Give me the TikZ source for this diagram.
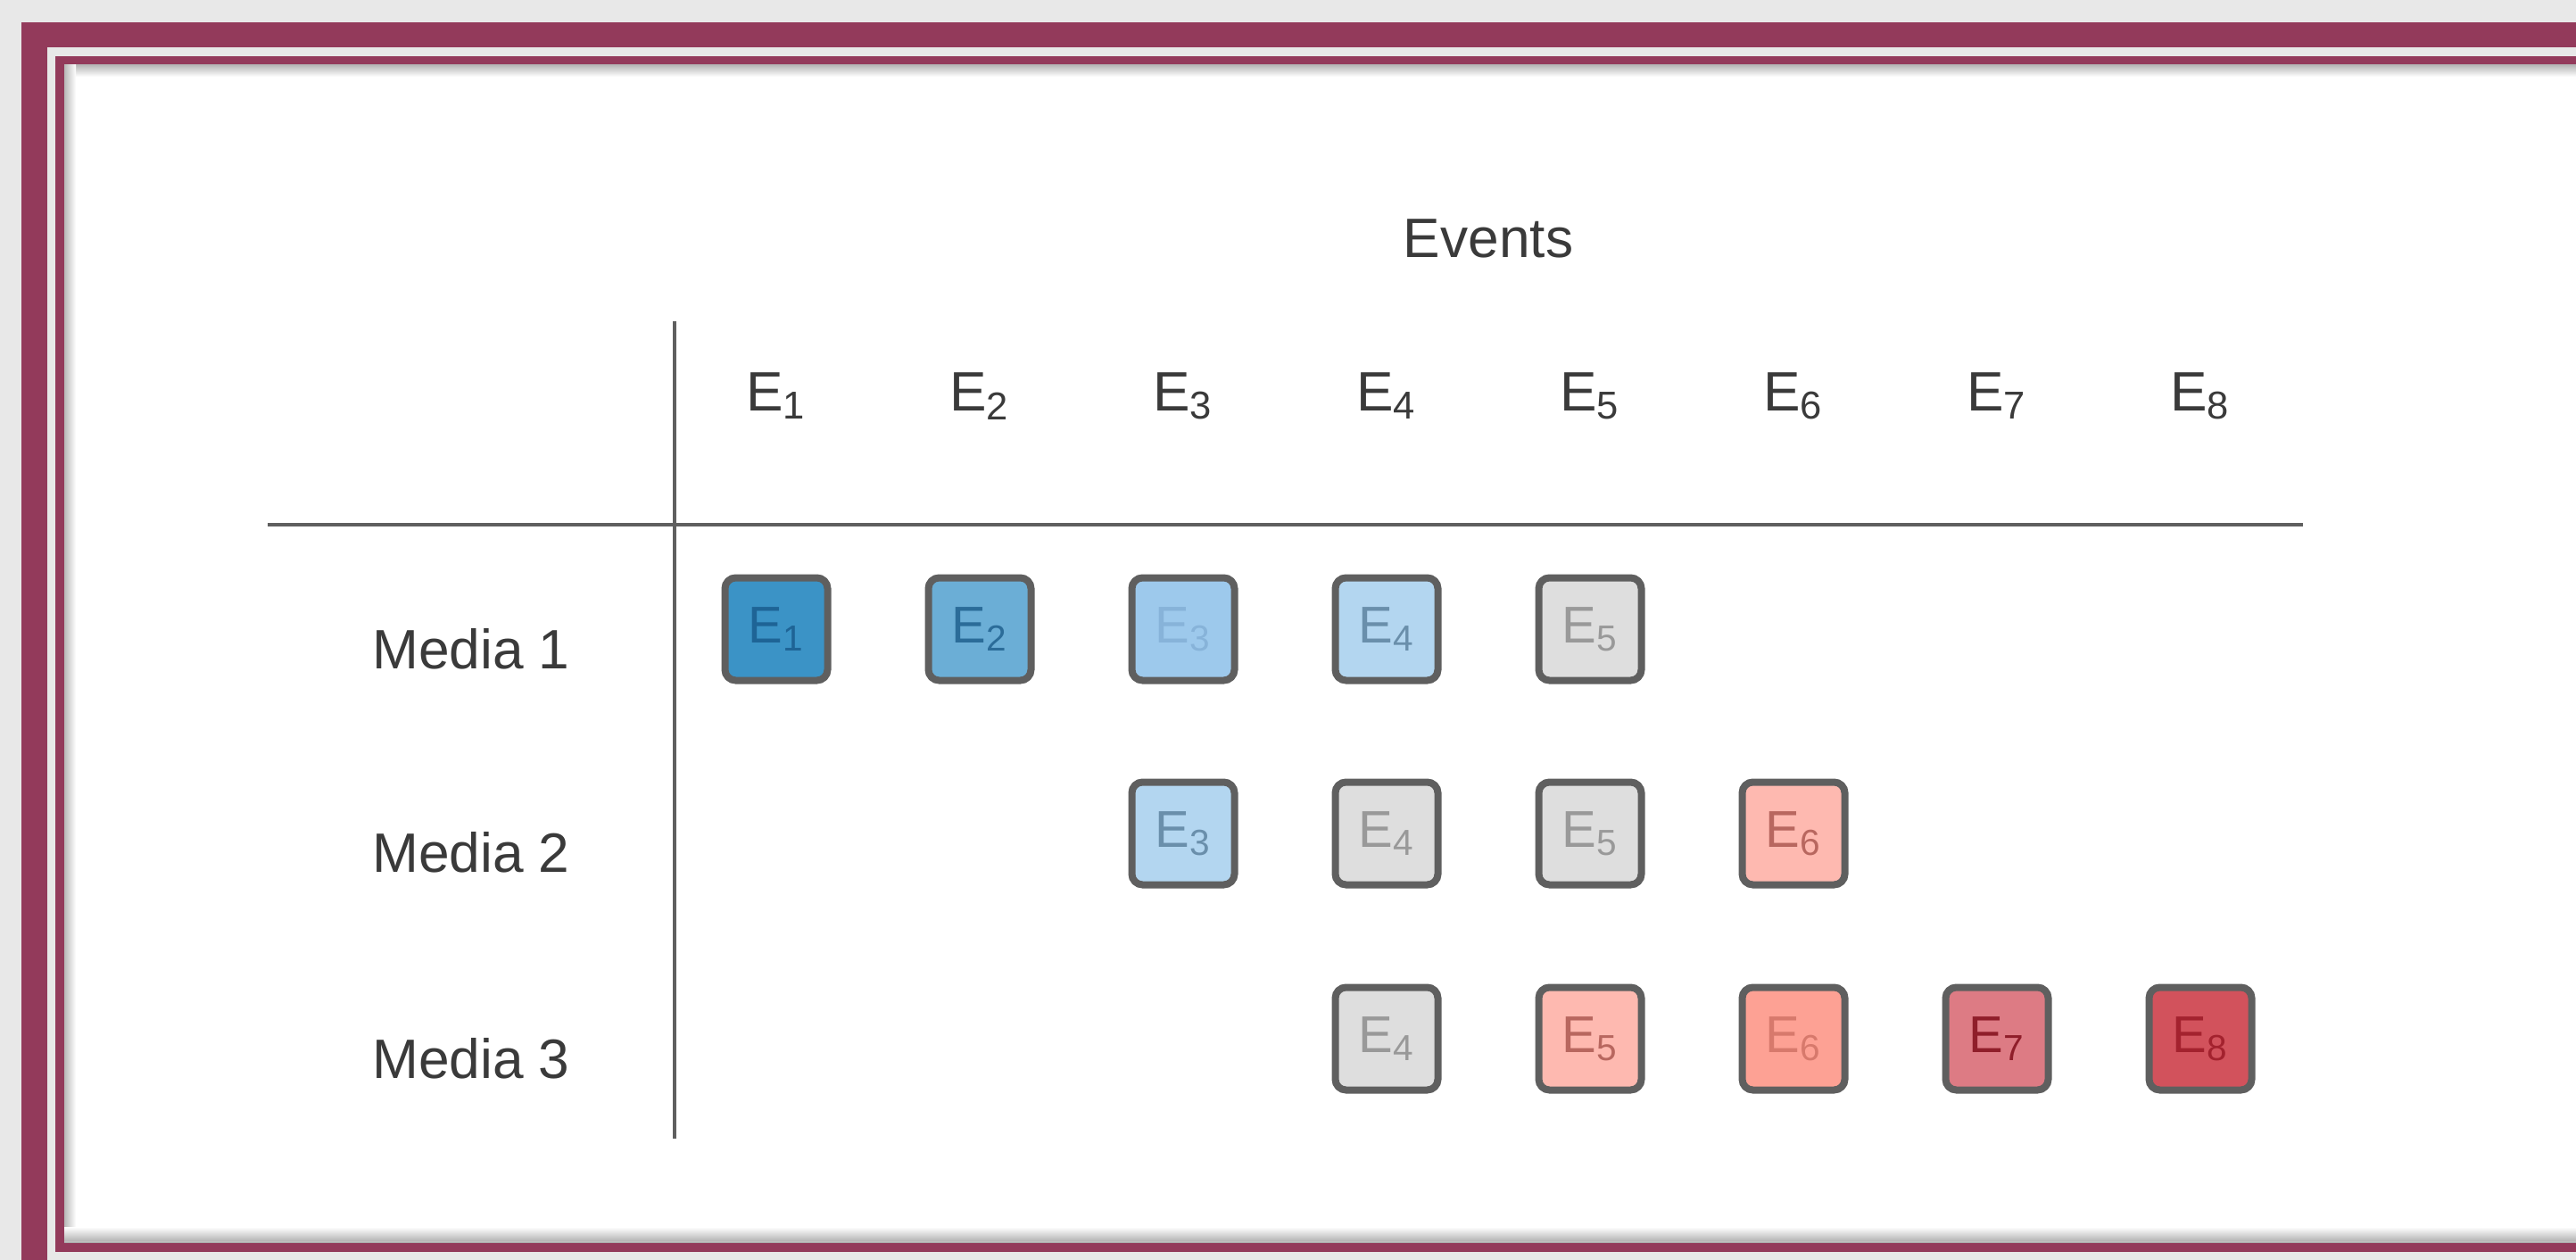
\documentclass[tikz,border=0pt]{standalone}
\usepackage{fontspec}
\setmainfont{Liberation Sans}
\usepackage{tikz}
\definecolor{frame}{HTML}{933A5B}
\definecolor{backgray}{HTML}{E8E8E8}
\definecolor{rule}{HTML}{5F5F5F}
\definecolor{ink}{HTML}{3A3A3A}
\newcommand{\ev}[1]{E\textsubscript{#1}}
\tikzstyle{heading}=[inner sep=0, text=ink, font=\fontsize{17.7}{21}\selectfont]
\tikzstyle{axis}=[draw=rule, line width=0.045cm]
\tikzstyle{event}=[draw=rule, line width=0.08cm, rounded corners=0.12cm, minimum size=1.15cm,
                   inner sep=0, font=\fontsize{16.5}{20}\selectfont]
% one style per shade, from dark blue through grey to dark red
\tikzstyle{bluedark}=[event, fill={rgb,255:red,59;green,147;blue,198}, text={rgb,255:red,30;green,100;blue,150}]
\tikzstyle{bluemid}=[event, fill={rgb,255:red,107;green,174;blue,214}, text={rgb,255:red,43;green,108;blue,153}]
\tikzstyle{bluesoft}=[event, fill={rgb,255:red,157;green,201;blue,236}, text={rgb,255:red,135;green,179;blue,217}]
\tikzstyle{bluepale}=[event, fill={rgb,255:red,179;green,214;blue,240}, text={rgb,255:red,106;green,143;blue,171}]
\tikzstyle{greybox}=[event, fill={rgb,255:red,222;green,222;blue,222}, text={rgb,255:red,153;green,153;blue,153}]
\tikzstyle{rose}=[event, fill={rgb,255:red,254;green,185;blue,176}, text={rgb,255:red,184;green,103;blue,95}]
\tikzstyle{salmon}=[event, fill={rgb,255:red,253;green,161;blue,148}, text={rgb,255:red,215;green,121;blue,108}]
\tikzstyle{wine}=[event, fill={rgb,255:red,221;green,123;blue,132}, text={rgb,255:red,143;green,30;blue,42}]
\tikzstyle{redbox}=[event, fill={rgb,255:red,210;green,82;blue,92}, text={rgb,255:red,163;green,34;blue,46}]
\begin{document}
\begin{tikzpicture}
    \useasboundingbox (0, 0) rectangle (28.87, -14.12);
    % frame
    \fill[backgray] (0, 0) rectangle (28.87, -14.12);
    \fill[frame] (0.24, -0.25) rectangle (29.5, -15);
    \fill[backgray] (0.53, -0.53) rectangle (29.5, -15);
    \fill[frame] (0.62, -0.63) rectangle (29.5, -14.03);
    \fill[white] (0.72, -0.73) rectangle (29.5, -13.92);
    \shade[top color=black!28, bottom color=white] (0.72, -0.73) rectangle (29.5, -0.86);
    \shade[left color=black!28, right color=white] (0.72, -0.73) rectangle (0.85, -13.92);
    \shade[bottom color=black!32, top color=white] (0.72, -13.92) rectangle (29.5, -13.75);
    \draw[black!25, line width=0.01cm] (0.72, -13.91) -- (29.5, -13.91);

    \node[heading] (events) at (16.68, -2.67) {Events};

    \node[heading] (h1) at (8.70, -4.44) {\ev{1}};
    \node[heading] (h2) at (10.98, -4.44) {\ev{2}};
    \node[heading] (h3) at (13.26, -4.44) {\ev{3}};
    \node[heading] (h4) at (15.54, -4.44) {\ev{4}};
    \node[heading] (h5) at (17.82, -4.44) {\ev{5}};
    \node[heading] (h6) at (20.10, -4.44) {\ev{6}};
    \node[heading] (h7) at (22.38, -4.44) {\ev{7}};
    \node[heading] (h8) at (24.66, -4.44) {\ev{8}};

    \coordinate (vtop) at (7.56, -3.60);
    \coordinate (vbot) at (7.56, -12.76);
    \coordinate (hleft) at (3.00, -5.88);
    \coordinate (hright) at (25.81, -5.88);
    \draw[axis] (vtop) -- (vbot);
    \draw[axis] (hleft) -- (hright);

    \node[heading] (media1) at (5.28, -7.27) {Media 1};
    \node[heading] (media2) at (5.28, -9.55) {Media 2};
    \node[heading] (media3) at (5.28, -11.86) {Media 3};

    \node[bluedark] (m1e1) at (8.70, -7.05) {\ev{1}};
    \node[bluemid] (m1e2) at (10.98, -7.05) {\ev{2}};
    \node[bluesoft] (m1e3) at (13.26, -7.05) {\ev{3}};
    \node[bluepale] (m1e4) at (15.54, -7.05) {\ev{4}};
    \node[greybox] (m1e5) at (17.82, -7.05) {\ev{5}};

    \node[bluepale] (m2e3) at (13.26, -9.34) {\ev{3}};
    \node[greybox] (m2e4) at (15.54, -9.34) {\ev{4}};
    \node[greybox] (m2e5) at (17.82, -9.34) {\ev{5}};
    \node[rose] (m2e6) at (20.10, -9.34) {\ev{6}};

    \node[greybox] (m3e4) at (15.54, -11.64) {\ev{4}};
    \node[rose] (m3e5) at (17.82, -11.64) {\ev{5}};
    \node[salmon] (m3e6) at (20.10, -11.64) {\ev{6}};
    \node[wine] (m3e7) at (22.38, -11.64) {\ev{7}};
    \node[redbox] (m3e8) at (24.66, -11.64) {\ev{8}};
\end{tikzpicture}
\end{document}
